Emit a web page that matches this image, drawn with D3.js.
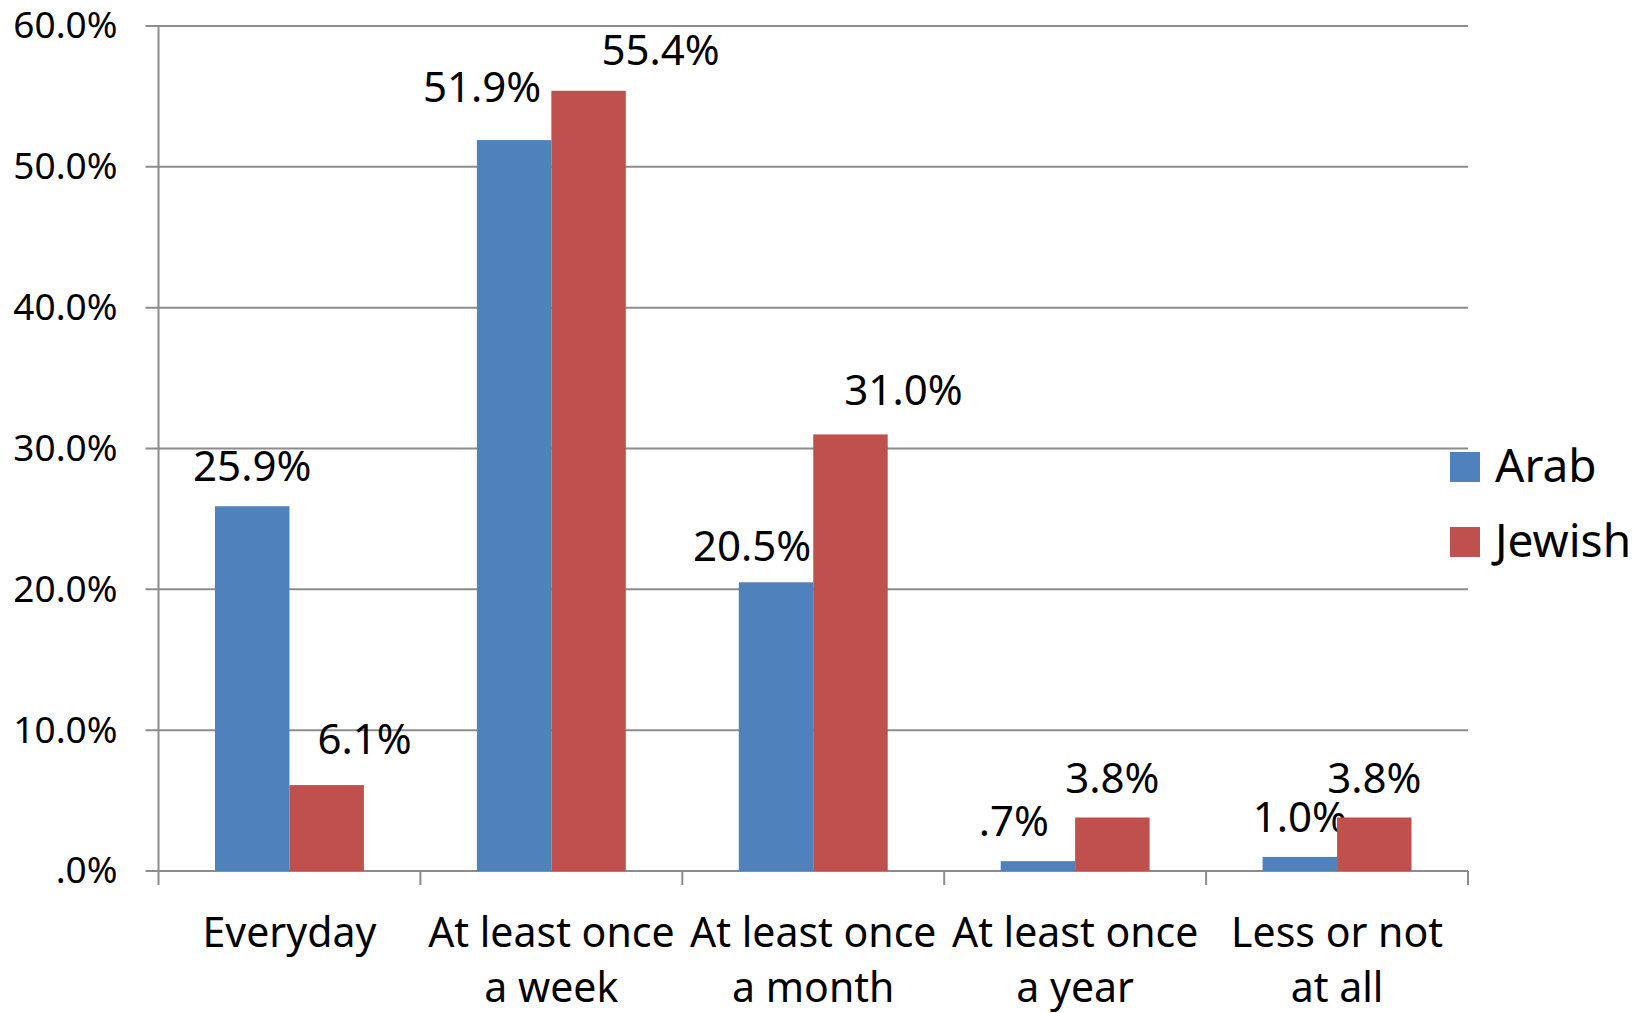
<!DOCTYPE html>
<html lang="en">
<head>
    <meta charset="utf-8" />
    <title>Arab vs Jewish frequency</title>
    <script src="https://d3js.org/d3.v7.js"></script>
    <style>
        body, html {
            margin: 0;
            background: #ffffff;
            font-family: "Noto Sans", "Open Sans", Arial, sans-serif;
        }
        .tick text { font-family: "Noto Sans", "Open Sans", Arial, sans-serif; }
    </style>
</head>
<body>
    <div id="canvas"></div>
<script>
    // data
    var categories = ["Everyday", "At least once a week", "At least once a month", "At least once a year", "Less or not at all"];
    var categoryLines = [["Everyday"], ["At least once", "a week"], ["At least once", "a month"], ["At least once", "a year"], ["Less or not", "at all"]];
    var seriesNames = ["Arab", "Jewish"];
    var arab = [25.9, 51.9, 20.5, 0.7, 1.0];
    var jewish = [6.1, 55.4, 31.0, 3.8, 3.8];
    var yTicks = [0, 10, 20, 30, 40, 50, 60];

    var colors = ["#4f81bd", "#c0504d"];
    var gridColor = "#8c8c8c";

    // label nudges (the labels were dragged by hand in the original)
    var labelNudge = [
        [[0, -25], [-32, -38], [-24, -21], [-24, -25], [0, -25]],
        [[38, -31], [72, -26], [53, -29], [0, -24], [0, -24]]
    ];

    var W = 1651, H = 1013;
    var margin = {top: 26, right: 183, bottom: 142, left: 158.5};
    var width = W - margin.left - margin.right,
        height = H - margin.top - margin.bottom;

    var svg = d3.select("#canvas")
        .append("svg")
        .attr("width", W)
        .attr("height", H)
        .append("g")
        .attr("transform", "translate(" + margin.left + "," + margin.top + ")");

    var x0 = d3.scaleBand()
        .domain(categories)
        .range([0, width])
        .padding(0);

    var x1 = d3.scaleBand()
        .domain(seriesNames)
        .range([56.5, x0.bandwidth() - 56.5])
        .padding(0);

    var y = d3.scaleLinear()
        .domain([0, 60])
        .range([height, 0]);

    // gridlines
    svg.append("g")
        .selectAll("line")
        .data(yTicks)
        .enter()
        .append("line")
        .attr("x1", -13)
        .attr("x2", width)
        .attr("y1", function(d) { return y(d); })
        .attr("y2", function(d) { return y(d); })
        .attr("stroke", gridColor)
        .attr("stroke-width", 2);

    // y axis labels
    var fmtTick = function(d) {
        return d3.format(".1f")(d).replace(/^0/, "") + "%";
    };
    var yAxis = svg.append("g")
        .call(d3.axisLeft(y).tickValues(yTicks).tickFormat(fmtTick).tickSize(13).tickPadding(28));
    yAxis.select(".domain").remove();
    yAxis.selectAll(".tick line").remove();
    yAxis.selectAll(".tick text")
        .style("font-size", "37px")
        .attr("fill", "#000");

    // vertical axis line
    svg.append("line")
        .attr("x1", 0).attr("x2", 0)
        .attr("y1", y(60)).attr("y2", height + 14)
        .attr("stroke", gridColor)
        .attr("stroke-width", 2);

    // category tick marks
    var bounds = categories.map(function(c) { return x0(c) + x0.bandwidth(); });
    svg.append("g")
        .selectAll("line")
        .data(bounds)
        .enter()
        .append("line")
        .attr("x1", function(d) { return d; })
        .attr("x2", function(d) { return d; })
        .attr("y1", height)
        .attr("y2", height + 14)
        .attr("stroke", gridColor)
        .attr("stroke-width", 2);

    // bars
    var series = [arab, jewish];
    var groups = svg.selectAll(".series")
        .data(series)
        .enter()
        .append("g")
        .attr("class", "series")
        .attr("fill", function(d, i) { return colors[i]; });

    groups.selectAll("rect")
        .data(function(d, i) { return d.map(function(v, j) { return {v: v, s: i, c: j}; }); })
        .enter()
        .append("rect")
        .attr("x", function(d) { return x0(categories[d.c]) + x1(seriesNames[d.s]); })
        .attr("width", x1.bandwidth())
        .attr("y", function(d) { return y(d.v); })
        .attr("height", function(d) { return height - y(d.v); });

    // value labels
    var fmtVal = function(v) {
        return d3.format(".1f")(v).replace(/^0/, "") + "%";
    };
    groups.selectAll("text")
        .data(function(d, i) { return d.map(function(v, j) { return {v: v, s: i, c: j}; }); })
        .enter()
        .append("text")
        .text(function(d) { return fmtVal(d.v); })
        .attr("x", function(d) { return x0(categories[d.c]) + x1(seriesNames[d.s]) + x1.bandwidth() / 2 + labelNudge[d.s][d.c][0]; })
        .attr("y", function(d) { return y(d.v) + labelNudge[d.s][d.c][1]; })
        .attr("text-anchor", "middle")
        .attr("fill", "#000")
        .style("font-size", "42px");

    // category labels
    var cat = svg.append("g")
        .selectAll("text")
        .data(categories)
        .enter()
        .append("text")
        .attr("x", function(d) { return x0(d) + x0.bandwidth() / 2; })
        .attr("y", height + 76)
        .attr("text-anchor", "middle")
        .attr("fill", "#000")
        .style("font-size", "41px");

    cat.selectAll("tspan")
        .data(function(d, i) { return categoryLines[i]; })
        .enter()
        .append("tspan")
        .attr("x", function() { return d3.select(this.parentNode).attr("x"); })
        .attr("dy", function(d, i) { return i === 0 ? 0 : 55; })
        .text(function(d) { return d; });

    // legend
    var legend = svg.append("g")
        .attr("transform", "translate(" + (1450 - margin.left) + "," + (452 - margin.top) + ")");

    seriesNames.forEach(function(name, i) {
        legend.append("rect")
            .attr("x", 0)
            .attr("y", i * 75)
            .attr("width", 30)
            .attr("height", 30)
            .attr("fill", colors[i]);
        legend.append("text")
            .text(name)
            .attr("x", 45)
            .attr("y", i * 75 + 30)
            .attr("fill", "#000")
            .style("font-size", "46px");
    });
</script>
</body>
</html>
